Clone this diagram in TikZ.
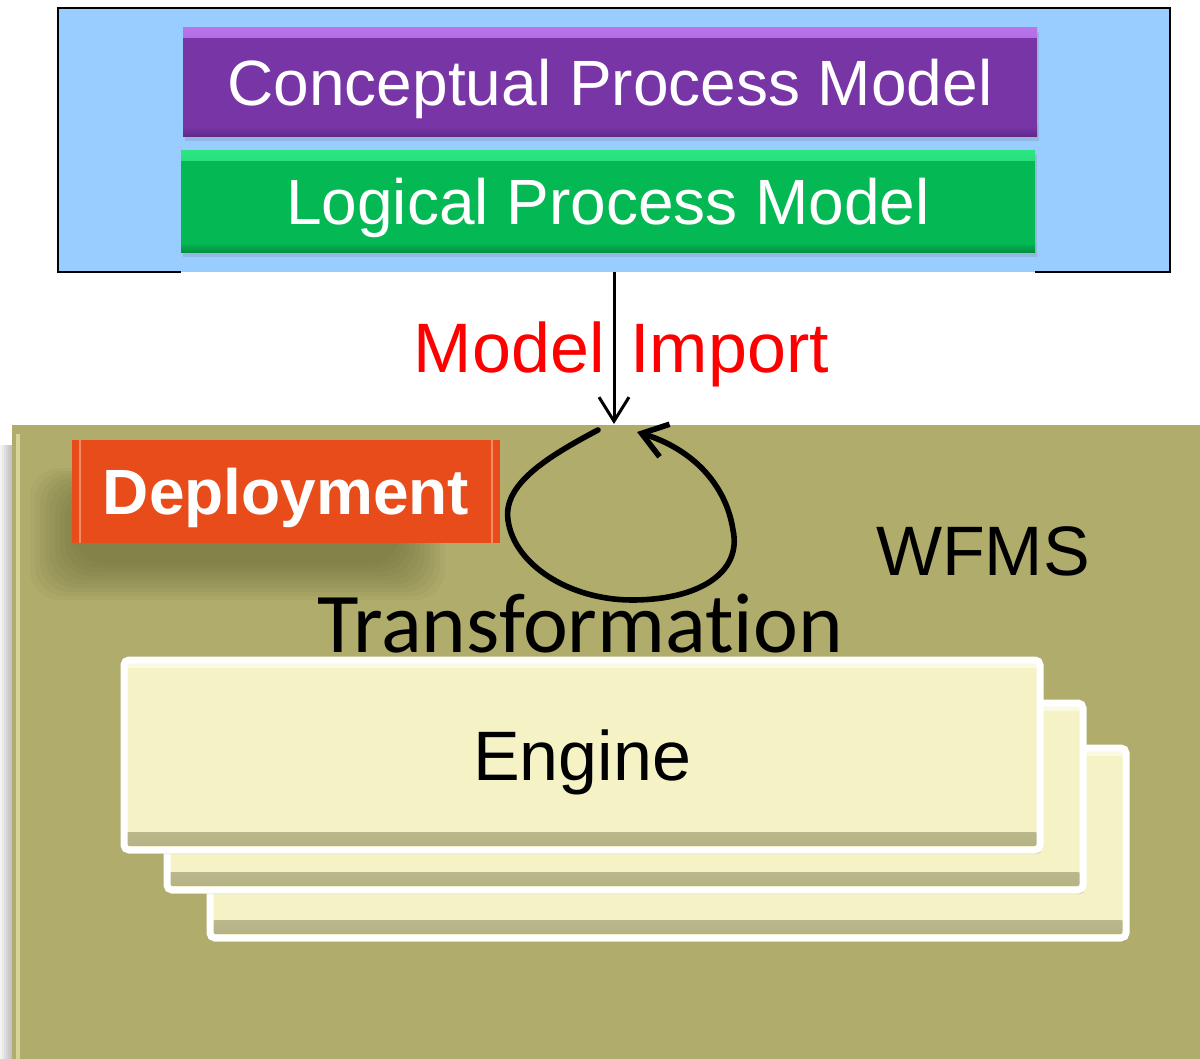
\documentclass[tikz,border=0pt]{standalone}
\usepackage{fontspec}
\setmainfont{Liberation Sans}
\newfontfamily\calibri[Ligatures=NoCommon]{Carlito}
\usetikzlibrary{arrows.meta,shadows,calc}

\definecolor{skyfill}{RGB}{153,204,255}
\definecolor{conceptfill}{RGB}{120,53,166}
\definecolor{concepthi}{RGB}{185,115,235}
\definecolor{conceptlo}{RGB}{95,40,135}
\definecolor{logicfill}{RGB}{4,184,84}
\definecolor{logichi}{RGB}{45,228,130}
\definecolor{logiclo}{RGB}{0,140,62}
\definecolor{olivefill}{RGB}{176,172,108}
\definecolor{olivelight}{RGB}{215,211,150}
\definecolor{olivedark}{RGB}{90,88,40}
\definecolor{deployfill}{RGB}{232,76,26}
\definecolor{deployhi}{RGB}{245,140,100}
\definecolor{enginefill}{RGB}{245,243,198}
\definecolor{enginelo}{RGB}{180,177,132}
\definecolor{importred}{RGB}{255,0,0}

\begin{document}
\begin{tikzpicture}[x=0.5pt,y=-0.5pt,
  captext/.style={text height=#1, text depth=0pt},
  modelbar/.style={inner sep=0pt, minimum width=427pt, text=white, captext=23pt,
    font=\fontsize{32}{38}\selectfont,
    drop shadow={opacity=0.25, shadow xshift=1pt, shadow yshift=-2pt}},
  conceptbar/.style={modelbar, fill=conceptfill, minimum height=54.5pt,
    path picture={
      \shade[top color=concepthi, bottom color=conceptfill]
        (path picture bounding box.north west) rectangle
        ([yshift=-5pt]path picture bounding box.north east);
      \shade[top color=conceptfill, bottom color=conceptlo]
        ([yshift=5pt]path picture bounding box.south west) rectangle
        (path picture bounding box.south east);}},
  logicbar/.style={modelbar, fill=logicfill, minimum height=51pt,
    path picture={
      \shade[top color=logichi, bottom color=logicfill]
        (path picture bounding box.north west) rectangle
        ([yshift=-5pt]path picture bounding box.north east);
      \shade[top color=logicfill, bottom color=logiclo]
        ([yshift=5pt]path picture bounding box.south west) rectangle
        (path picture bounding box.south east);}},
  enginebox/.style={draw=white, line width=3.5pt, rounded corners=2.5pt,
    fill=enginefill, inner sep=0pt, minimum width=458pt,
    drop shadow={opacity=0.3, shadow xshift=1pt, shadow yshift=-2pt},
    path picture={
      \shade[top color=enginefill, bottom color=enginelo]
        ([yshift=9pt]path picture bounding box.south west) rectangle
        ([yshift=2pt]path picture bounding box.south east);
      \fill[white, opacity=0.5] (path picture bounding box.north west) rectangle
        ([yshift=-4pt]path picture bounding box.north east);}},
  bigtext/.style={inner sep=0pt, font=\fontsize{35}{42}\selectfont},
  flowline/.style={line width=1.5pt, -{Straight Barb[length=12pt,width=15pt]}},
  loopline/.style={line width=2.8pt, line cap=round,
    -{Straight Barb[length=12pt,width=17pt]}}]

\useasboundingbox (0,0) rectangle (1200,1059);

% ---- process models ----
\node[fill=skyfill, inner sep=0pt, minimum width=556pt, minimum height=132pt]
  (top) at (614,140) {};
\draw[line width=1pt, black] (181,272) -- (58,272) -- (58,8) -- (1170,8)
  -- (1170,272) -- (1035,272);
\node[conceptbar] (concept) at (610,82.5) {Conceptual Process Model};
\node[logicbar] (logic) at (608,202) {Logical Process Model};

% ---- workflow management system ----
\foreach \i in {1,...,6}
  \fill[black, opacity=0.045] (12-2*\i,445) rectangle (12,1059);
\node[fill=olivefill, inner sep=0pt, minimum width=594pt, minimum height=317pt]
  (wfms) at (606,742) {};
\draw[olivelight, line width=2pt] (18,434) -- (18,1059);

% soft shadow under the deployment tag
\foreach \i in {0,...,9}
  \fill[olivedark, opacity=0.06, rounded corners=15pt]
    (30+\i*5,468+\i*3) rectangle (445-\i*5,600-\i*4);
\node[fill=deployfill, inner sep=0pt, minimum width=214pt, minimum height=51.5pt,
  text=white, captext=23pt, font=\bfseries\fontsize{32}{38}\selectfont,
  path picture={
    \draw[deployhi, line width=1.2pt]
      ([xshift=4pt]path picture bounding box.south west) --
      ([xshift=4pt]path picture bounding box.north west);
    \draw[deployhi, line width=1.2pt]
      ([xshift=-4pt]path picture bounding box.south east) --
      ([xshift=-4pt]path picture bounding box.north east);}]
  (deploy) at (286,491.5) {Deployment};

\node[bigtext, anchor=base] (wfmslabel) at (983,575) {WFMS};
\node[inner sep=0pt, anchor=base, font=\calibri\fontsize{42.5}{50}\selectfont]
  (transform) at (580,652) {Transformation};

% ---- engine stack ----
\node[enginebox, minimum height=95pt] (engine3) at (668,843) {};
\node[enginebox, minimum height=93.5pt] (engine2) at (625,796.5) {};
\node[enginebox, minimum height=95pt, bigtext, captext=25pt] (engine1) at (582,755) {Engine};

% ---- model import ----
\node[bigtext, text=importred, anchor=base east] (importa) at (605,372) {Model};
\node[bigtext, text=importred, anchor=base west] (importb) at (630,372) {Import};
\coordinate (loopin) at (614,424);
\draw[flowline] (top.south) -- (loopin);

% transformation loop
\coordinate (loopstart) at (598,430);
\coordinate (loopend) at (637,432);
\draw[loopline] (loopstart) .. controls (545,458) and (503,485) .. (508,520)
  .. controls (514,565) and (570,600) .. (632,600)
  .. controls (700,600) and (742,572) .. (733,530)
  .. controls (726,484) and (692,449) .. (loopend);
\end{tikzpicture}
\end{document}
